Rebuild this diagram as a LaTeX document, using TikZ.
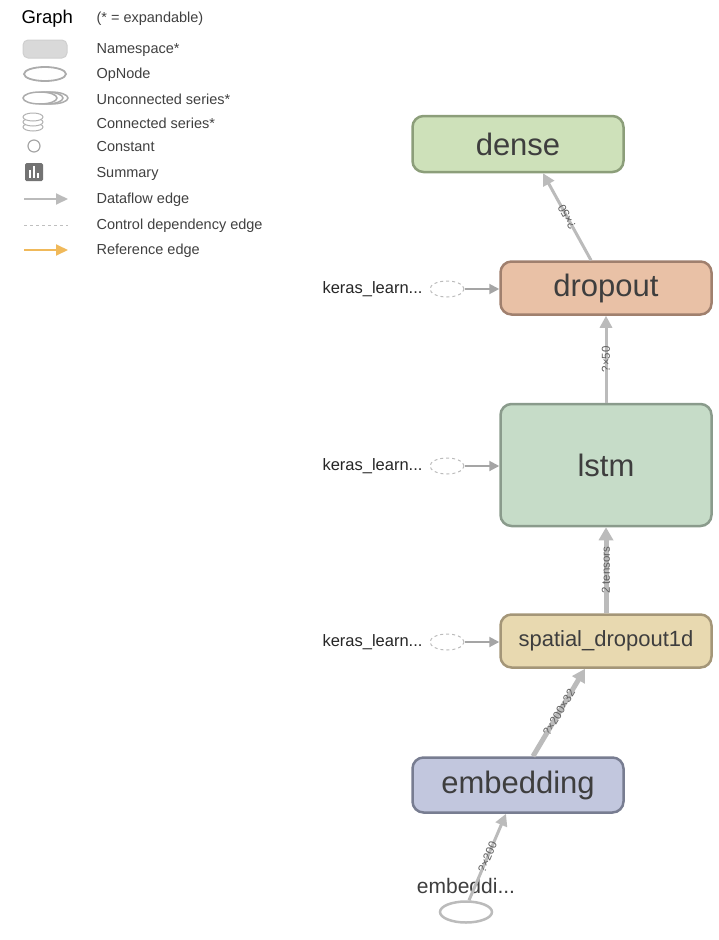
\documentclass[tikz,border=0pt]{standalone}
\usepackage{fontspec}
\setmainfont{Liberation Sans}
\usetikzlibrary{arrows.meta,shapes.geometric,positioning}
\definecolor{edgegray}{RGB}{187,187,187}
\definecolor{sidegray}{RGB}{165,165,165}
\definecolor{labgray}{RGB}{62,62,62}
\definecolor{densefill}{RGB}{206,225,186}
\definecolor{denseline}{RGB}{140,158,122}
\definecolor{dropfill}{RGB}{233,193,166}
\definecolor{dropline}{RGB}{160,128,110}
\definecolor{lstmfill}{RGB}{198,220,200}
\definecolor{lstmline}{RGB}{138,155,140}
\definecolor{spatfill}{RGB}{232,217,176}
\definecolor{spatline}{RGB}{164,150,120}
\definecolor{embfill}{RGB}{194,199,222}
\definecolor{embline}{RGB}{120,125,145}
\definecolor{refcol}{RGB}{240,185,90}
\begin{document}
\begin{tikzpicture}[x=1pt,y=-1pt,
 layer/.style={draw,rounded corners=11pt,line width=2.5pt,minimum width=211pt,text=labgray,font=\fontsize{31}{31}\selectfont},
 flow/.style={draw=edgegray,line width=3pt,-{Triangle[length=12pt,width=12pt]}},
 thickflow/.style={draw=edgegray,line width=5pt,-{Triangle[length=13pt,width=14pt]}},
 sideflow/.style={draw=sidegray,line width=2pt,-{Triangle[length=10pt,width=10pt]}},
 sideop/.style={ellipse,draw=edgegray,dashed,line width=1pt,minimum width=34pt,minimum height=16pt,inner sep=0pt},
 sidelab/.style={anchor=east,text=black!85,font=\fontsize{16.5}{16.5}\selectfont},
 elab/.style={text=gray!75!black,font=\fontsize{11.5}{11.5}\selectfont,inner sep=0pt,sloped,allow upside down},
 legtext/.style={anchor=west,text=black!75,font=\fontsize{14.5}{14.5}\selectfont}]
\useasboundingbox (0,0) rectangle (718,940);

\node[anchor=west,font=\fontsize{18.5}{18.5}\selectfont] (graphtitle) at (18,19) {Graph};
\node[legtext] (expand) at (93,19) {(* = expandable)};
\node[legtext] (lnamespace) at (93,50) {Namespace*};
\node[legtext] (lopnode) at (93,75) {OpNode};
\node[legtext] (lunconn) at (93,99) {Unconnected series*};
\node[legtext] (lconn) at (93,123) {Connected series*};
\node[legtext] (lconst) at (93,147) {Constant};
\node[legtext] (lsummary) at (93,174) {Summary};
\node[legtext] (ldataflow) at (93,200) {Dataflow edge};
\node[legtext] (lcontrol) at (93,226) {Control dependency edge};
\node[legtext] (lreference) at (93,251) {Reference edge};

\draw[fill=gray!30,draw=gray!38,line width=1pt,rounded corners=5pt] (23,40) rectangle (67,58);
\draw[draw=gray!65,line width=1.8pt] (45,74) ellipse (21 and 7);
\draw[draw=gray!65,fill=white,line width=1.5pt] (51,98) ellipse (17 and 6);
\draw[draw=gray!65,fill=white,line width=1.5pt] (46,98) ellipse (17 and 6);
\draw[draw=gray!65,fill=white,line width=1.5pt] (40,98) ellipse (17 and 6);
\draw[draw=gray!60,fill=white,line width=1pt] (33,127) ellipse (10 and 4);
\draw[draw=gray!60,fill=white,line width=1pt] (33,122) ellipse (10 and 4);
\draw[draw=gray!60,fill=white,line width=1pt] (33,117) ellipse (10 and 4);
\draw[draw=gray!70,line width=1.2pt] (34,146) circle (6);
\draw[fill=gray!90!black,draw=none,rounded corners=1.5pt] (25,163) rectangle (43,181);
\draw[fill=white,draw=none] (29,170) rectangle (31,178);
\draw[fill=white,draw=none] (33,166) rectangle (35,178);
\draw[fill=white,draw=none] (37,173) rectangle (39,178);
\draw[draw=edgegray,line width=2pt,-{Triangle[length=12pt,width=11pt]}] (24,199) -- (68,199);
\draw[draw=gray!50,dashed,line width=0.8pt] (24,225) -- (68,225);
\draw[draw=refcol,line width=2pt,-{Triangle[length=12pt,width=11pt]}] (24,250) -- (68,250);

\node[layer,fill=densefill,draw=denseline,minimum height=56pt] (dense) at (518,144) {dense};
\node[layer,fill=dropfill,draw=dropline,minimum height=53pt] (dropout) at (606,288) {dropout};
\node[layer,fill=lstmfill,draw=lstmline,minimum height=122pt] (lstm) at (606,465) {lstm};
\node[layer,fill=spatfill,draw=spatline,minimum height=53pt,font=\fontsize{22}{22}\selectfont] (spatial) at (606,641) {spatial\_dropout1d};
\node[layer,fill=embfill,draw=embline,minimum height=55pt] (embedding) at (518,785) {embedding};

\node[ellipse,draw=edgegray,line width=2.5pt,minimum width=52pt,minimum height=21pt,inner sep=0pt] (input) at (466,912) {};
\node[text=labgray,font=\fontsize{21}{21}\selectfont] (inputlab) at (466,886) {embeddi...};

\node[sideop] (dropin) at (447,289) {};
\node[sideop] (lstmin) at (447,466) {};
\node[sideop] (spatin) at (447,642) {};
\node[sidelab] (droplab) at (426,289) {keras\_learn...};
\node[sidelab] (lstmlab) at (426,466) {keras\_learn...};
\node[sidelab] (spatlab) at (426,642) {keras\_learn...};
\draw[sideflow] (dropin.east) -- (dropin -| dropout.west);
\draw[sideflow] (lstmin.east) -- (lstmin -| lstm.west);
\draw[sideflow] (spatin.east) -- (spatin -| spatial.west);

\draw[flow] ([xshift=3pt]input.north) -- node[elab] {?×200} ([xshift=-12pt]embedding.south);
\draw[thickflow] ([xshift=15pt]embedding.north) -- node[elab] {?×200×32} ([xshift=-21pt]spatial.south);
\draw[thickflow] (spatial.north) -- node[elab] {2 tensors} (lstm.south);
\draw[flow] (lstm.north) -- node[elab] {?×50} (dropout.south);
\draw[flow] ([xshift=-15pt]dropout.north) -- node[elab] {?×50} ([xshift=25pt]dense.south);
\end{tikzpicture}
\end{document}
